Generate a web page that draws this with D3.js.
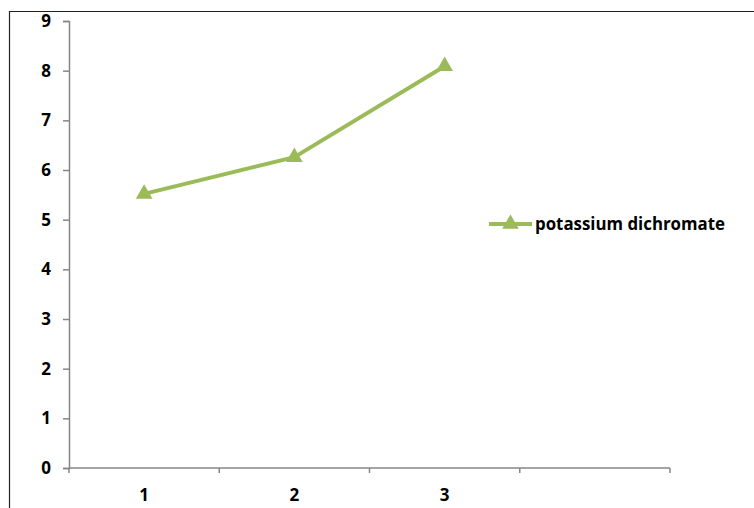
<!DOCTYPE html>
<html>
<head>
<meta charset="utf-8">
<script src="https://cdn.jsdelivr.net/npm/d3@7"></script>
<style>
  html, body { margin: 0; padding: 0; background: #fff; }
  svg { display: block; }
  .tick text { font-family: "Open Sans", Lato, sans-serif; font-weight: 700; font-size: 17px; fill: #000; }
</style>
</head>
<body>
<script>
// Series data
const categories = ["1", "2", "3", ""];
const seriesName = "potassium dichromate";
const seriesValues = [5.52, 6.26, 8.09];
const yTicks = [0, 1, 2, 3, 4, 5, 6, 7, 8, 9];

const W = 754, H = 508;
const plot = { left: 69, right: 670, top: 21, bottom: 468 };
const green = "#9BBB59";
const axisGrey = "#868686";
const font = "'Open Sans', Lato, sans-serif";

const svg = d3.select("body").append("svg")
  .attr("width", W).attr("height", H);

// Outer chart frame
svg.append("path")
  .attr("d", `M9.5,${H + 5} V11.5 H${W + 5}`)
  .attr("fill", "none").attr("stroke", "#222").attr("stroke-width", 1.2);

const x = d3.scaleBand().domain(categories).range([plot.left, plot.right]);
const y = d3.scaleLinear().domain([0, 9]).range([plot.bottom, plot.top]);

// Y axis
const yAxis = svg.append("g")
  .attr("transform", `translate(${plot.left},0)`)
  .call(d3.axisLeft(y).tickValues(yTicks).tickSize(6).tickPadding(12).tickFormat(d3.format("d")));

// X axis: ticks on category boundaries, labels at band centres
const xAxisG = svg.append("g").attr("transform", `translate(0,${plot.bottom})`);
xAxisG.append("line")
  .attr("x1", plot.left).attr("x2", plot.right)
  .attr("stroke", axisGrey).attr("stroke-width", 1.5);
const boundaries = categories.map(c => x(c)).concat([x.range()[1]]);
xAxisG.selectAll("line.bt").data(boundaries).enter().append("line")
  .attr("class", "bt")
  .attr("x1", d => d).attr("x2", d => d)
  .attr("y1", 0).attr("y2", 5)
  .attr("stroke", axisGrey).attr("stroke-width", 1.5);
xAxisG.selectAll("text").data(categories.filter(c => c !== "")).enter().append("text")
  .attr("x", d => x(d) + x.bandwidth() / 2)
  .attr("y", 33)
  .attr("text-anchor", "middle")
  .attr("font-family", font)
  .attr("font-weight", 700).attr("font-size", 17)
  .text(d => d);

yAxis.select(".domain").attr("stroke", axisGrey).attr("stroke-width", 1.5);
yAxis.selectAll(".tick line").attr("stroke", axisGrey).attr("stroke-width", 1.5);

// Line series
const pts = seriesValues.map((v, i) => [x(categories[i]) + x.bandwidth() / 2, y(v)]);
svg.append("path")
  .attr("d", d3.line()(pts))
  .attr("fill", "none").attr("stroke", green)
  .attr("stroke-width", 4).attr("stroke-linejoin", "round");

const tri = d3.symbol().type(d3.symbolTriangle).size(120);
svg.selectAll("path.mk").data(pts).enter().append("path")
  .attr("class", "mk")
  .attr("d", tri)
  .attr("transform", d => `translate(${d[0]},${d[1]})`)
  .attr("fill", green);

// Legend
const lg = svg.append("g").attr("transform", "translate(489,224)");
lg.append("line").attr("x1", 0).attr("x2", 43).attr("stroke", green).attr("stroke-width", 4);
lg.append("path").attr("d", tri).attr("transform", "translate(21.5,0)").attr("fill", green);
lg.append("text")
  .attr("x", 46).attr("y", 6)
  .attr("font-family", font)
  .attr("font-weight", 700).attr("font-size", 17)
  .attr("textLength", 190).attr("lengthAdjust", "spacingAndGlyphs")
  .text(seriesName);
</script>
</body>
</html>
